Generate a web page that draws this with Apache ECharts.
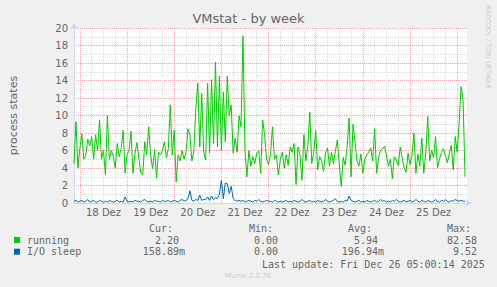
<!DOCTYPE html>
<html><head><meta charset="utf-8">
<script src="https://cdn.jsdelivr.net/npm/echarts@6/dist/echarts.min.js"></script>
<style>html,body{margin:0;padding:0;background:#f0f0f0}#c{width:497px;height:287px}</style>
</head><body><div id="c"></div>
<script>
// Time is in hours after 17 Dez 00:00; one sample per hour
const startHour = 21;
const endHour = 221;
const dayLabels = ['18 Dez','19 Dez','20 Dez','21 Dez','22 Dez','23 Dez','24 Dez','25 Dez'];
const seriesNames = ['running', 'I/O sleep'];

const running = [
 4.5, 9.3, 4.0, 6.3, 7.9, 5.0, 5.5, 7.3, 6.5, 7.6,
 5.0, 7.8, 6.0, 9.5, 5.0, 6.0, 3.2, 10.0, 5.0, 6.0,
 5.3, 4.0, 6.8, 5.3, 6.2, 8.3, 3.4, 5.5, 6.0, 8.2,
 3.4, 5.6, 6.9, 5.2, 3.4, 3.2, 7.0, 5.5, 8.7, 5.5,
 3.9, 6.1, 2.9, 5.8, 5.5, 6.0, 7.0, 5.2, 6.2, 11.2,
 5.5, 8.3, 2.4, 5.5, 4.8, 6.0, 5.0, 5.8, 8.5, 7.8,
 4.8, 6.0, 10.8, 13.7, 6.4, 12.5, 5.8, 4.9, 13.7, 5.7,
 14.1, 6.8, 16.1, 6.4, 14.5, 6.0, 12.7, 7.0, 14.5, 10.0,
 11.2, 5.7, 7.4, 5.8, 10.0, 8.7, 19.1, 6.0, 3.0, 6.0,
 4.2, 5.3, 4.5, 5.7, 6.0, 3.4, 9.5, 7.8, 5.0, 4.4,
 5.5, 8.7, 5.0, 5.5, 3.2, 5.0, 5.8, 4.0, 5.5, 4.3,
 6.4, 5.8, 6.8, 2.1, 6.4, 5.5, 2.6, 7.8, 4.8, 6.5,
 10.4, 4.5, 5.8, 8.3, 3.8, 5.3, 4.8, 3.6, 5.7, 6.3,
 4.2, 5.8, 4.5, 5.9, 7.2, 4.4, 1.9, 5.2, 4.3, 6.4,
 9.7, 3.0, 9.0, 7.0, 4.8, 4.2, 5.6, 3.4, 5.0, 5.5,
 5.8, 6.3, 4.8, 8.5, 3.4, 5.2, 6.0, 6.2, 6.5, 5.5,
 4.2, 5.0, 2.8, 5.3, 4.9, 4.3, 6.4, 5.2, 4.0, 3.5,
 5.7, 4.4, 5.4, 8.0, 3.4, 5.6, 4.2, 7.4, 3.4, 5.6,
 9.9, 4.8, 6.0, 5.2, 7.6, 4.0, 5.0, 5.8, 6.2, 5.4,
 4.6, 5.7, 6.6, 3.8, 7.6, 5.8, 9.1, 13.3, 11.8, 3.0
];

const ioSleep = [
 0.2, 0.3, 0.1, 0.2, 0.3, 0.1, 0.2, 0.4, 0.1, 0.2,
 0.3, 0.1, 0.1, 0.3, 0.2, 0.1, 0.2, 0.1, 0.3, 0.2,
 0.1, 0.2, 0.3, 0.1, 0.2, 0.1, 0.7, 0.2, 0.1, 0.2,
 0.1, 0.3, 0.2, 0.2, 0.1, 0.3, 0.4, 0.2, 0.1, 0.2,
 0.1, 0.3, 0.2, 0.2, 0.1, 0.3, 0.2, 0.2, 0.3, 0.1,
 0.2, 0.3, 0.2, 0.1, 0.3, 0.4, 0.2, 0.3, 0.5, 1.4,
 0.3, 0.2, 0.4, 0.3, 0.9, 0.3, 0.4, 0.4, 0.7, 0.3,
 0.8, 0.4, 0.6, 0.5, 1.0, 2.6, 0.5, 2.3, 2.2, 1.1,
 1.9, 0.5, 0.3, 0.2, 0.3, 0.2, 0.3, 0.1, 0.2, 0.3,
 0.2, 0.1, 0.3, 0.2, 0.4, 0.2, 0.1, 0.2, 0.3, 0.2,
 0.2, 0.1, 0.3, 0.2, 0.1, 0.2, 0.1, 0.2, 0.3, 0.1,
 0.2, 0.1, 0.3, 0.2, 0.1, 0.2, 0.4, 0.2, 0.1, 0.2,
 0.3, 0.1, 0.2, 0.1, 0.3, 0.2, 0.1, 0.2, 0.4, 0.2,
 0.1, 0.2, 0.3, 0.5, 0.2, 0.1, 0.2, 0.1, 0.3, 0.2,
 0.8, 0.3, 0.2, 0.1, 0.2, 0.3, 0.1, 0.2, 0.1, 0.3,
 0.2, 0.1, 0.2, 0.3, 0.1, 0.2, 0.4, 0.2, 0.3, 0.1,
 0.2, 0.1, 0.3, 0.2, 0.4, 0.2, 0.1, 0.2, 0.3, 0.1,
 0.2, 0.3, 0.1, 0.2, 0.4, 0.2, 0.1, 0.3, 0.2, 0.1,
 0.3, 0.2, 0.1, 0.2, 0.4, 0.2, 0.1, 0.3, 0.2, 0.4,
 0.2, 0.1, 0.3, 0.2, 0.4, 0.3, 0.2, 0.3, 0.2, 0.2
];

const statHeaders = ['Cur:', 'Min:', 'Avg:', 'Max:'];
const runningStats = ['2.20', '0.00', '5.94', '82.58'];
const ioSleepStats = ['158.89m', '0.00', '196.94m', '9.52'];
const lastUpdate = 'Last update: Fri Dec 26 05:00:14 2025';

// ---- layout / style ----
const FONT = 'DejaVu Sans, sans-serif';
const MONO = 'DejaVu Sans Mono, monospace';
const TXT = '#666666';
const AXIS = '#CFD6F8';
const MGRID = '#eeaaaa';
const GRID = '#dcdcdc';

const gridTicks = [];
for (let h = Math.ceil(startHour / 6) * 6; h <= endHour; h += 6) gridTicks.push(h);
const labelTicks = dayLabels.map((_, i) => 36 + 24 * i);

const toPts = arr => arr.map((v, i) => [startHour + i, v]);

const headerX = [149, 249, 348, 447];
const colEnd = [185, 284, 384, 483];
const fmtStat = s => /[a-zA-Z]$/.test(s) ? s : s + '\u00a0';

const graphic = [];
statHeaders.forEach((h, i) => graphic.push({type:'text', x: headerX[i], y: 228.5,
  style:{text:h, font:'10px ' + MONO, fill:TXT, align:'left', verticalAlign:'middle'}}));
runningStats.forEach((s, i) => graphic.push({type:'text', x: colEnd[i], y: 240,
  style:{text:fmtStat(s), font:'10px ' + MONO, fill:TXT, align:'right', verticalAlign:'middle'}}));
ioSleepStats.forEach((s, i) => graphic.push({type:'text', x: colEnd[i], y: 251.7,
  style:{text:fmtStat(s), font:'10px ' + MONO, fill:TXT, align:'right', verticalAlign:'middle'}}));
graphic.push({type:'text', x: 262, y: 264,
  style:{text:lastUpdate, font:'10px ' + MONO, fill:TXT, align:'left', verticalAlign:'middle'}});
graphic.push({type:'text', x: 248, y: 276,
  style:{text:'Munin 2.0.76', font:'7px ' + FONT, fill:'#cccccc', align:'center', verticalAlign:'middle'}});
graphic.push({type:'text', x: 488, y: 5, rotation: -Math.PI / 2,
  style:{text:'RRDTOOL / TOBI OETIKER', font:'6.5px ' + FONT, fill:'#cccccc', align:'left', verticalAlign:'middle'}});

const legendBase = {orient:'vertical', padding:0, itemWidth:6, itemHeight:6, itemGap:0, icon:'rect',
  selectedMode:false, textStyle:{fontFamily:MONO, fontSize:10, color:TXT, lineHeight:10, padding:[0,0,0,2]}};

const chart = echarts.init(document.getElementById('c'), null, {renderer:'svg'});
chart.setOption({
  animation: false,
  backgroundColor: '#f0f0f0',
  title: {text:'VMstat - by week', left:'center', top:12, padding:0,
    textStyle:{fontFamily:FONT, fontSize:13, fontWeight:'normal', color:TXT}},
  legend: [
    Object.assign({}, legendBase, {data:[seriesNames[0]], left:14, top:235}),
    Object.assign({}, legendBase, {data:[seriesNames[1]], left:14, top:246.7})
  ],
  grid: {left:67, right:30, top:28, bottom:84, show:true, backgroundColor:'#ffffff', borderWidth:0},
  xAxis: {
    type:'value', min:startHour, max:endHour,
    axisLine:{show:true, lineStyle:{color:AXIS, width:1}, symbol:['none','arrow'], symbolSize:[6,7], symbolOffset:[0,5]},
    axisTick:{show:false, customValues:gridTicks},
    axisLabel:{customValues:labelTicks, margin:4, fontFamily:FONT, fontSize:10, color:TXT,
      formatter: v => dayLabels[Math.round((v - 36) / 24)] || ''},
    splitLine:{show:true, lineStyle:{color:[MGRID, GRID, GRID, GRID], type:[1,1], width:1}}
  },
  yAxis: {
    type:'value', min:0, max:20, interval:1,
    name:'process states', nameLocation:'middle', nameRotate:90, nameGap:55,
    nameTextStyle:{fontFamily:FONT, fontSize:11, color:TXT},
    axisLine:{show:true, lineStyle:{color:AXIS, width:1}, symbol:['none','arrow'], symbolSize:[6,7], symbolOffset:[0,5]},
    axisTick:{show:false},
    axisLabel:{margin:6, fontFamily:FONT, fontSize:10, color:TXT, formatter: v => v % 2 === 0 ? String(v) : ''},
    splitLine:{show:true, lineStyle:{color:[MGRID, GRID], type:[1,1], width:1}}
  },
  series: [
    {name:seriesNames[0], type:'line', data:toPts(running), showSymbol:false, symbol:'none',
      lineStyle:{color:'#00cc00', width:1}, itemStyle:{color:'#00cc00'}, z:3},
    {name:seriesNames[1], type:'line', data:toPts(ioSleep), showSymbol:false, symbol:'none',
      lineStyle:{color:'#0066b3', width:1}, itemStyle:{color:'#0066b3'}, z:4}
  ],
  graphic: graphic
});
</script></body></html>
